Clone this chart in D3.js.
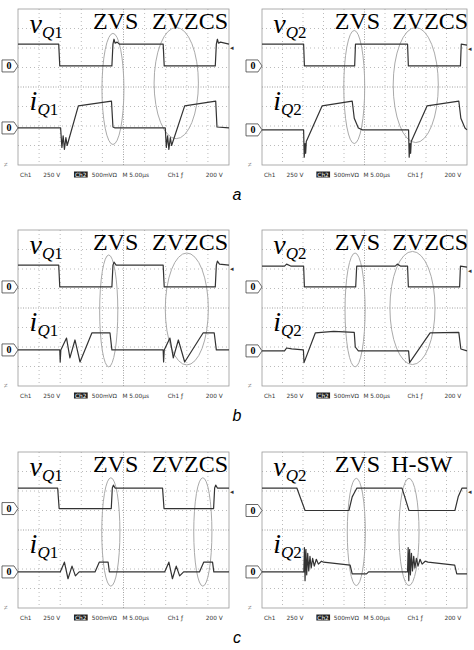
<!DOCTYPE html>
<html>
<head>
<meta charset="utf-8">
<script src="https://cdn.jsdelivr.net/npm/d3@7"></script>
<style>
  body { margin: 0; background: #fff; }
  svg { display: block; }
</style>
</head>
<body>
<div id="chart"></div>
<script>
// waveforms in scope divisions: [time div, level div]
const aL_v = [[0,2.2],[1.93,2.2],[1.98,1.08],[4.45,1.08],[4.5,2.2],[4.55,2.45],[4.6,2.25],[4.7,2.3],[4.8,2.2],[6.88,2.2],[6.93,1.08],[9.35,1.08],[9.4,2.2],[9.45,2.45],[9.5,2.25],[9.6,2.3],[10,2.2]];
const aL_i = [[0,-2.1],[2.02,-2.1],[2.08,-3.1],[2.14,-2.5],[2.2,-3.2],[2.27,-2.6],[2.33,-3.0],[2.86,-0.97],[4.43,-0.72],[4.5,-2.05],[4.6,-2.1],[6.98,-2.1],[7.03,-3.1],[7.09,-2.5],[7.15,-3.2],[7.22,-2.6],[7.28,-3.0],[7.9,-0.97],[9.37,-0.72],[9.43,-2.05],[10,-2.1]];
const aR_v = [[0,2.2],[2.03,2.2],[2.07,1.08],[4.52,1.08],[4.56,2.2],[7.1,2.2],[7.14,1.08],[9.68,1.08],[9.72,2.2],[10,2.15]];
const aR_i = [[0,-2.2],[2.03,-2.2],[2.06,-3.6],[2.1,-2.9],[2.13,-3.4],[2.16,-2.8],[2.93,-0.97],[4.4,-0.72],[4.5,-1.6],[4.7,-2.1],[4.9,-2.2],[7.15,-2.2],[7.18,-3.6],[7.22,-2.9],[7.25,-3.4],[7.28,-2.8],[8.05,-0.97],[9.6,-0.72],[9.7,-1.6],[9.9,-2.1],[10,-2.2]];
const bL_v = [[0,2.2],[1.93,2.2],[1.98,1.08],[4.45,1.08],[4.5,2.2],[4.55,2.35],[4.65,2.2],[6.88,2.2],[6.93,1.08],[9.35,1.08],[9.4,2.2],[9.45,2.4],[9.55,2.25],[10,2.2]];
const bL_i = [[0,-2.15],[1.98,-2.15],[2.0,-2.77],[2.03,-2.15],[2.3,-1.54],[2.46,-2.56],[2.7,-1.64],[2.94,-2.77],[3.5,-1.28],[4.36,-1.28],[4.45,-2.15],[6.88,-2.15],[6.9,-2.77],[6.93,-2.15],[7.2,-1.54],[7.36,-2.56],[7.6,-1.64],[7.9,-2.77],[8.77,-1.28],[9.3,-1.28],[9.4,-2.15],[10,-2.15]];
const bR_v = [[0,2.15],[1.1,2.15],[1.2,2.25],[1.4,2.15],[2.03,2.15],[2.07,1.08],[4.57,1.08],[4.62,2.15],[6.5,2.15],[6.6,2.25],[6.75,2.15],[7.1,2.15],[7.14,1.08],[9.64,1.08],[9.68,2.15],[10,2.1]];
const bR_i = [[0,-2.2],[1.1,-2.2],[1.2,-2.05],[1.45,-2.1],[2.02,-2.15],[2.05,-2.8],[2.6,-1.28],[3.5,-1.2],[4.5,-1.25],[4.55,-2.0],[4.7,-2.2],[7.15,-2.2],[7.2,-2.8],[8.2,-1.28],[9.6,-1.25],[9.7,-2.1],[10,-2.2]];
const cL_v = [[0,2.15],[1.88,2.15],[1.95,1.1],[4.42,1.1],[4.47,2.15],[4.52,2.3],[4.6,2.15],[6.85,2.15],[6.92,1.1],[9.27,1.1],[9.32,2.15],[9.37,2.3],[9.45,2.15],[10,2.15]];
const cL_i = [[0,-2.15],[2.0,-2.15],[2.2,-1.65],[2.37,-2.5],[2.56,-1.85],[2.72,-2.35],[2.9,-2.15],[3.65,-2.15],[3.85,-1.65],[4.27,-1.65],[4.33,-2.15],[6.95,-2.15],[7.15,-1.65],[7.32,-2.5],[7.5,-1.85],[7.66,-2.35],[7.85,-2.15],[8.6,-2.15],[8.8,-1.65],[9.22,-1.65],[9.28,-2.15],[10,-2.15]];
const cR_v = [[0,2.15],[1.7,2.15],[2.1,1.0],[4.24,1.0],[4.4,1.7],[4.5,1.9],[4.63,2.15],[6.83,2.15],[7.17,1.0],[9.41,1.0],[9.57,1.7],[9.65,1.9],[9.76,2.15],[10,2.15]];
const cR_i = [[0,-2.15],[2.04,-2.15],[2.07,-0.9],[2.1,-2.6],[2.14,-1.0],[2.18,-2.3],[2.23,-1.2],[2.28,-2.1],[2.34,-1.35],[2.4,-1.95],[2.47,-1.45],[2.55,-1.85],[2.65,-1.5],[2.75,-1.75],[2.9,-1.6],[3.0,-1.65],[4.3,-1.8],[4.4,-2.25],[5.1,-2.25],[5.2,-2.15],[7.1,-2.15],[7.13,-0.9],[7.16,-2.6],[7.2,-1.0],[7.24,-2.3],[7.29,-1.2],[7.34,-2.1],[7.4,-1.35],[7.46,-1.95],[7.53,-1.45],[7.61,-1.85],[7.71,-1.5],[7.81,-1.75],[7.96,-1.6],[8.1,-1.65],[9.4,-1.8],[9.5,-2.25],[10,-2.25]];

const statusText = ["Ch1", "250 V", "Ch2", "500mVΩ", "M 5.00µs", "Ch1 ƒ", "200 V"];
const rowLetters = ["a", "b", "c"];

const panels = [
  { x0: 18, x1: 229, yc: 87, v: aL_v, i: aL_i, sub: "1", notes: ["ZVS", "ZVZCS"],
    ell: [[4.5, -0.1, 0.52, 2.85], [7.5, 0.2, 1.05, 2.85]], vz: 1.08, iz: -2.1 },
  { x0: 262, x1: 467, yc: 87, v: aR_v, i: aR_i, sub: "2", notes: ["ZVS", "ZVZCS"],
    ell: [[4.5, 0, 0.51, 2.9], [7.5, 0.1, 1.1, 2.95]], vz: 1.08, iz: -2.2 },
  { x0: 18, x1: 229, yc: 308, v: bL_v, i: bL_i, sub: "1", notes: ["ZVS", "ZVZCS"],
    ell: [[4.3, -0.15, 0.43, 2.87], [8.0, -0.05, 1.02, 2.87]], vz: 1.08, iz: -2.15 },
  { x0: 262, x1: 467, yc: 308, v: bR_v, i: bR_i, sub: "2", notes: ["ZVS", "ZVZCS"],
    ell: [[4.54, -0.1, 0.49, 2.92], [7.34, 0, 1.1, 2.9]], vz: 1.08, iz: -2.2 },
  { x0: 18, x1: 229, yc: 530, v: cL_v, i: cL_i, sub: "1", notes: ["ZVS", "ZVZCS"],
    ell: [[4.4, -0.1, 0.43, 2.78], [8.76, -0.1, 0.43, 2.78]], vz: 1.1, iz: -2.15 },
  { x0: 262, x1: 467, yc: 530, v: cR_v, i: cR_i, sub: "2", notes: ["ZVS", "H-SW"],
    ell: [[4.6, -0.1, 0.44, 2.75], [7.17, -0.1, 0.49, 2.75]], vz: 1.0, iz: -2.15 }
];
const dv = 19.5;

const svg = d3.select("#chart").append("svg").attr("width", 474).attr("height", 650);

panels.forEach((p, k) => {
  const x = d3.scaleLinear().domain([0, 10]).range([p.x0, p.x1]);
  const y = d3.scaleLinear().domain([-4, 4]).range([p.yc + 4 * dv, p.yc - 4 * dv]);
  const g = svg.append("g");

  // grid
  g.selectAll(".gx").data(d3.range(1, 10)).enter().append("line")
    .attr("x1", d => x(d)).attr("x2", d => x(d)).attr("y1", y(4)).attr("y2", y(-4))
    .attr("stroke", d => d === 5 ? "#888" : "#aaa").attr("stroke-width", 0.8)
    .attr("stroke-dasharray", d => d === 5 ? "1,1.5" : "1,3");
  g.selectAll(".gy").data(d3.range(-3, 4)).enter().append("line")
    .attr("y1", d => y(d)).attr("y2", d => y(d)).attr("x1", x(0)).attr("x2", x(10))
    .attr("stroke", d => d === 0 ? "#888" : "#aaa").attr("stroke-width", 0.8)
    .attr("stroke-dasharray", d => d === 0 ? "1,1.5" : "1,3");
  g.append("rect").attr("x", x(0)).attr("y", y(4)).attr("width", x(10) - x(0)).attr("height", y(-4) - y(4))
    .attr("fill", "none").attr("stroke", "#999").attr("stroke-width", 0.8);

  // annotation ellipses
  g.selectAll(".el").data(p.ell).enter().append("ellipse")
    .attr("cx", d => x(d[0])).attr("cy", d => y(d[1]))
    .attr("rx", d => x(d[2]) - x(0)).attr("ry", d => y(0) - y(d[3]))
    .attr("fill", "none").attr("stroke", "#aaa").attr("stroke-width", 1);

  // traces
  const line = d3.line().x(d => x(d[0])).y(d => y(d[1]));
  [p.v, p.i].forEach(s => g.append("path").attr("d", line(s))
    .attr("fill", "none").attr("stroke", "#333").attr("stroke-width", 1.2).attr("stroke-linejoin", "round"));

  // zero markers
  [p.vz, p.iz].forEach(z => {
    const yy = y(z), xe = p.x0;
    g.append("path").attr("d", `M${xe - 16},${yy - 6}H${xe - 4}L${xe},${yy}L${xe - 4},${yy + 6}H${xe - 16}Z`)
      .attr("fill", "#fff").attr("stroke", "#444").attr("stroke-width", 0.8);
    g.append("text").attr("x", xe - 9).attr("y", yy + 3.5).attr("text-anchor", "middle")
      .attr("font-family", "Liberation Serif").attr("font-size", 10).attr("font-weight", "bold").text("0");
  });
  g.append("text").attr("x", x(10) + 1).attr("y", y(p.v[p.v.length - 1][1]) + 6)
    .attr("font-size", 7).attr("fill", "#333").text("◂");
  g.append("text").attr("x", p.x0 - 14).attr("y", y(-4) + 2).attr("font-size", 7).attr("fill", "#555").text("≠");

  // labels
  const lab = (name, yv) => {
    const t = g.append("text").attr("x", x(0.55)).attr("y", y(yv))
      .attr("font-family", "Liberation Serif").attr("font-style", "italic").attr("font-size", 28);
    t.append("tspan").text(name);
    t.append("tspan").attr("font-size", 17).attr("dy", 5).text("Q");
    t.append("tspan").attr("font-size", 17).attr("font-style", "normal").text(p.sub);
  };
  lab("v", 2.75);
  lab("i", -1.2);
  const serif = { "font-family": "Liberation Serif", "font-size": 24 };
  const n1 = g.append("text").attr("x", x(3.55)).attr("y", y(2.95)).text(p.notes[0]);
  const n2 = g.append("text").attr("x", p.notes[1] === "H-SW" ? x(6.3) : x(6.35)).attr("y", y(2.95)).text(p.notes[1]);
  [n1, n2].forEach(t => Object.entries(serif).forEach(([a, b]) => t.attr(a, b)));

  // status line
  const sx = [0.1, 1.2, 2.7, 3.5, 4.95, 7.1, 8.9];
  statusText.forEach((s, j) => {
    const t = g.append("text").attr("x", x(sx[j])).attr("y", y(-4) + 11.5).attr("font-family", "DejaVu Sans")
      .attr("font-size", 5.8).attr("fill", j === 2 ? "#fff" : "#333").text(s);
    if (j === 2) {
      const b = t.node().getBBox();
      g.insert("rect", () => t.node()).attr("x", b.x - 1).attr("y", b.y).attr("width", b.width + 2)
        .attr("height", b.height).attr("fill", "#222");
    }
  });
});

rowLetters.forEach((l, r) => {
  svg.append("text").attr("x", 237).attr("y", [200, 421, 643][r]).attr("text-anchor", "middle")
    .attr("font-family", "Liberation Sans").attr("font-style", "italic").attr("font-size", 16).text(l);
});
</script>
</body>
</html>
